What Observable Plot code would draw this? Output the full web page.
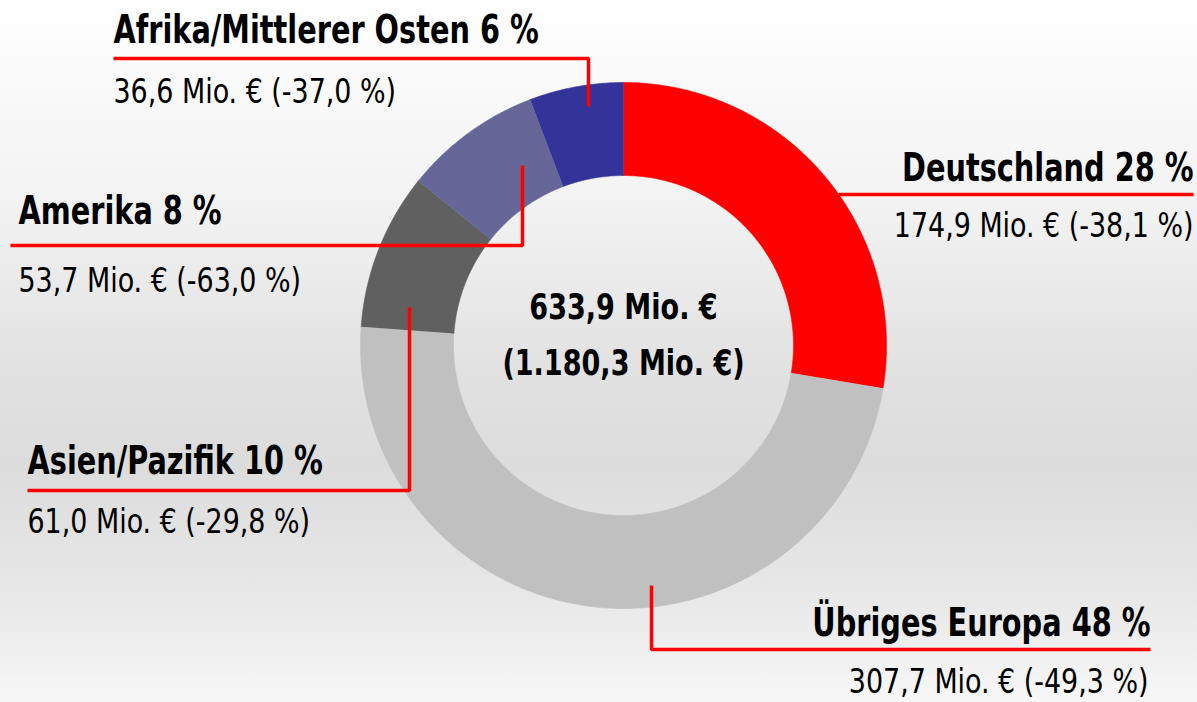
<!DOCTYPE html>
<html><head><meta charset="utf-8">
<script src="https://cdn.jsdelivr.net/npm/d3@7"></script>
<script src="https://cdn.jsdelivr.net/npm/@observablehq/plot@0.6"></script>
<style>
html,body{margin:0;padding:0;}
body{width:1197px;height:702px;overflow:hidden;
background:linear-gradient(to bottom,#ffffff 0%,#f3f3f3 28%,#e2e2e2 52%,#dcdcdc 66%,#e8e8e8 85%,#f7f7f7 100%);}
#chart svg{display:block;}
</style></head><body><div id="chart"></div><script>
// ---- data ----
const regions = ["Deutschland", "Übriges Europa", "Asien/Pazifik", "Amerika", "Afrika/Mittlerer Osten"];
const values = [174.9, 307.7, 61.0, 53.7, 36.6];      // Mio. €
const shares = [28, 48, 10, 8, 6];                     // %
const changes = [-38.1, -49.3, -29.8, -63.0, -37.0];  // % vs. previous year
const colors = ["#ff0000", "#c0c0c0", "#606060", "#666699", "#333399"];
const totalNow = 633.9;
const totalPrev = 1180.3;

// ---- layout (positions only) ----
const W = 1197, H = 702;
const cx = 623, cy = 345, rInner = 170, rOuter = 263;
const labelLayout = [
  {anchor: "end",   x: 1193, ty: 180, vx: 1193, vy: 236, line: [[838,194],[1193,194]]},
  {anchor: "end",   x: 1150, ty: 635, vx: 1148, vy: 692, line: [[651,585],[651,649],[1150,649]]},
  {anchor: "start", x: 27,   ty: 473, vx: 27,   vy: 532, line: [[409,307],[409,490],[27,490]]},
  {anchor: "start", x: 18,   ty: 223, vx: 18,   vy: 291, line: [[522,165],[522,245],[10,245]]},
  {anchor: "start", x: 113,  ty: 42,  vx: 113,  vy: 102, line: [[588,106],[588,58],[113,58]]}
];

const de = d3.formatLocale({decimal: ",", thousands: ".", grouping: [3], currency: ["", ""], minus: "-"});
const f1 = de.format(",.1f");

const data = regions.map((name, i) => ({name, value: values[i], share: shares[i], change: changes[i], color: colors[i]}));
const arcs = d3.pie().sort(null).value(d => d.value)(data);

// polygon points for each donut slice
const slicePts = [];
arcs.forEach(a => {
  const n = Math.max(8, Math.ceil((a.endAngle - a.startAngle) / (Math.PI / 360)));
  const pts = [];
  for (let k = 0; k <= n; k++) {
    const t = a.startAngle + (a.endAngle - a.startAngle) * k / n;
    pts.push([cx + rOuter * Math.sin(t), cy - rOuter * Math.cos(t)]);
  }
  for (let k = n; k >= 0; k--) {
    const t = a.startAngle + (a.endAngle - a.startAngle) * k / n;
    pts.push([cx + rInner * Math.sin(t), cy - rInner * Math.cos(t)]);
  }
  pts.forEach(p => slicePts.push({name: a.data.name, color: a.data.color, x: p[0], y: p[1]}));
});

const linePts = [];
data.forEach((d, i) => labelLayout[i].line.forEach(p => linePts.push({name: d.name, x: p[0], y: p[1]})));

const titles = data.map((d, i) => ({text: `${d.name} ${d.share} %`, x: labelLayout[i].x, y: labelLayout[i].ty, anchor: labelLayout[i].anchor}));
const valueLabels = data.map((d, i) => ({text: `${f1(d.value)} Mio. € (${f1(d.change)} %)`, x: labelLayout[i].vx, y: labelLayout[i].vy, anchor: labelLayout[i].anchor}));

const font = "'Liberation Sans Narrow','Arial Narrow','DejaVu Sans Condensed',sans-serif";

// narrow the condensed font horizontally around each text's anchor
const squeeze = sx => (index, scales, values, dims, context, next) => {
  const g = next(index, scales, values, dims, context);
  d3.select(g).selectAll("text").each(function() {
    const t = this.getAttribute("transform") || "";
    this.setAttribute("transform", `${t} scale(${sx},1)`);
  });
  return g;
};

const plot = Plot.plot({
  width: W, height: H, margin: 0,
  x: {domain: [0, W], range: [0, W], axis: null},
  y: {domain: [0, H], range: [0, H], axis: null},
  style: {background: "transparent", fontFamily: font},
  marks: [
    Plot.line(slicePts, {x: "x", y: "y", z: "name", fill: "color", stroke: "color", strokeWidth: 0.6, curve: "linear"}),
    Plot.line(linePts, {x: "x", y: "y", z: "name", stroke: "#ff0000", strokeWidth: 3.5, strokeLinejoin: "miter", strokeLinecap: "butt"}),
    Plot.text(titles.filter(d => d.anchor === "start"), {x: "x", y: "y", text: "text", textAnchor: "start", lineAnchor: "bottom", fontSize: 39, fontWeight: "bold", fill: "#000", render: squeeze(0.82)}),
    Plot.text(titles.filter(d => d.anchor === "end"), {x: "x", y: "y", text: "text", textAnchor: "end", lineAnchor: "bottom", fontSize: 39, fontWeight: "bold", fill: "#000", render: squeeze(0.82)}),
    Plot.text(valueLabels.filter(d => d.anchor === "start"), {x: "x", y: "y", text: "text", textAnchor: "start", lineAnchor: "bottom", fontSize: 34, fill: "#000", render: squeeze(0.88)}),
    Plot.text(valueLabels.filter(d => d.anchor === "end"), {x: "x", y: "y", text: "text", textAnchor: "end", lineAnchor: "bottom", fontSize: 34, fill: "#000", render: squeeze(0.88)}),
    Plot.text([`${f1(totalNow)} Mio. €`, `(${f1(totalPrev)} Mio. €)`], {x: [cx, cx], y: [318, 374], text: d => d, textAnchor: "middle", lineAnchor: "bottom", fontSize: 35, fontWeight: "bold", fill: "#000", render: squeeze(0.86)})
  ]
});
document.getElementById("chart").appendChild(plot);
</script></body></html>
